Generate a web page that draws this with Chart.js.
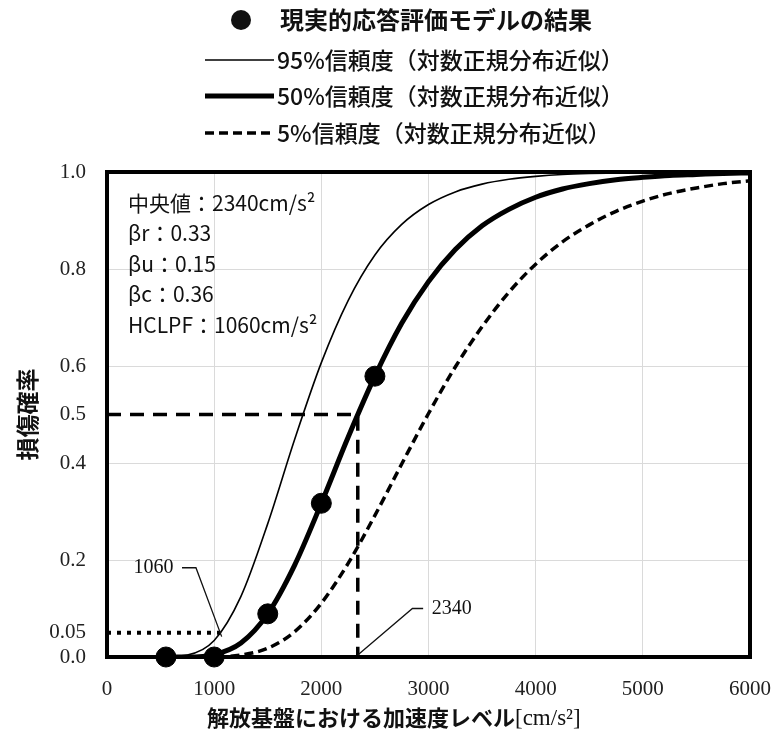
<!DOCTYPE html>
<html>
<head>
<meta charset="utf-8">
<script src="https://cdn.jsdelivr.net/npm/chart.js@4.4.1/dist/chart.umd.min.js"></script>
<style>
html, body { margin: 0; padding: 0; background: #fff; }
</style>
</head>
<body>
<canvas id="myChart" width="773" height="738"></canvas>
<script>
// 加速度 [cm/s2]
var accel = [500, 750, 1000, 1250, 1500, 1750, 2000, 2250, 2500, 2750, 3000, 3250,
             3500, 3750, 4000, 4250, 4500, 4750, 5000, 5250, 5500, 5750, 6000];
// 損傷確率（読み取り）
var p95 = [0.000, 0.004, 0.034, 0.125, 0.275, 0.448, 0.607, 0.735, 0.829, 0.892, 0.933, 0.959,
           0.975, 0.985, 0.991, 0.995, 0.997, 0.998, 0.999, 0.999, 1.000, 1.000, 1.000];
var p50 = [0.000, 0.000, 0.005, 0.029, 0.089, 0.189, 0.317, 0.453, 0.579, 0.688, 0.774, 0.840,
           0.889, 0.923, 0.948, 0.965, 0.976, 0.984, 0.989, 0.993, 0.995, 0.997, 0.998];
var p05 = [0.000, 0.000, 0.000, 0.004, 0.018, 0.052, 0.111, 0.193, 0.292, 0.398, 0.502, 0.598,
           0.681, 0.752, 0.810, 0.856, 0.891, 0.919, 0.940, 0.956, 0.967, 0.976, 0.982];
// 現実的応答評価モデルの結果
var resultAccel = [550, 1000, 1500, 2000, 2500];
var resultProb = [0.0, 0.0, 0.089, 0.317, 0.579];

var medianAcc = 2340;
var hclpfAcc = 1060;
var yTicks = [0, 0.05, 0.2, 0.4, 0.5, 0.6, 0.8, 1.0];
var xTicks = [0, 1000, 2000, 3000, 4000, 5000, 6000];
var paramLines = ['中央値：2340cm/s²', 'βr：0.33', 'βu：0.15', 'βc：0.36', 'HCLPF：1060cm/s²'];
var xTitle = ['解放基盤における加速度レベル', '[cm/s²]'];

function pts(xs, ys) {
    return xs.map(function (x, i) { return { x: x, y: ys[i] }; });
}

var jp = '"Noto Sans CJK JP", "Noto Sans", sans-serif';
var serif = '"Liberation Serif", "DejaVu Serif", serif';

var decor = {
    id: 'decor',
    beforeDatasetsDraw: function (chart) {
        var a = chart.chartArea, c = chart.ctx;
        c.save();
        c.strokeStyle = '#000';
        c.lineWidth = 4;
        c.strokeRect(a.left, a.top, a.right - a.left, a.bottom - a.top);
        c.restore();
    },
    afterDraw: function (chart) {
        var c = chart.ctx, xs = chart.scales.x, ys = chart.scales.y, a = chart.chartArea;
        var ds = chart.data.datasets;
        c.save();
        c.fillStyle = '#111';
        c.textBaseline = 'middle';

        // 凡例
        var rows = [20, 60, 96, 133];
        c.beginPath();
        c.arc(241, rows[0], 10, 0, Math.PI * 2);
        c.fill();
        c.font = 'bold 24px ' + jp;
        c.fillText(ds[0].label, 280, rows[0]);
        c.font = '500 23px ' + jp;
        for (var i = 1; i <= 3; i++) {
            c.save();
            c.strokeStyle = '#000';
            c.lineWidth = ds[i].borderWidth;
            c.setLineDash(ds[i].borderDash || []);
            c.beginPath();
            c.moveTo(205, rows[i]);
            c.lineTo(274, rows[i]);
            c.stroke();
            c.restore();
            c.fillText(ds[i].label, 277, rows[i]);
        }

        // パラメータ
        c.font = '21px ' + jp;
        paramLines.forEach(function (t, k) {
            c.fillText(t, a.left + 21, a.top + 31 + k * 30.5);
        });

        // 横軸タイトル
        var ty = 718, tx = a.left + 100;
        c.font = 'bold 22px ' + jp;
        c.fillText(xTitle[0], tx, ty);
        tx += c.measureText(xTitle[0]).width;
        c.font = '23px ' + serif;
        c.fillText(xTitle[1], tx, ty + 1);

        // 引出線
        c.strokeStyle = '#111';
        c.lineWidth = 1.3;
        c.beginPath();
        c.moveTo(xs.getPixelForValue(700), ys.getPixelForValue(0.184));
        c.lineTo(xs.getPixelForValue(830), ys.getPixelForValue(0.184));
        c.lineTo(xs.getPixelForValue(hclpfAcc + 10), ys.getPixelForValue(0.042));
        c.stroke();
        c.beginPath();
        c.moveTo(xs.getPixelForValue(medianAcc), ys.getPixelForValue(0.004));
        c.lineTo(xs.getPixelForValue(2850), ys.getPixelForValue(0.1));
        c.lineTo(xs.getPixelForValue(2950), ys.getPixelForValue(0.1));
        c.stroke();

        c.font = '20px ' + serif;
        c.textAlign = 'right';
        c.fillText(String(hclpfAcc), xs.getPixelForValue(620), ys.getPixelForValue(0.184));
        c.textAlign = 'left';
        c.fillText(String(medianAcc), xs.getPixelForValue(3030), ys.getPixelForValue(0.1));
        c.restore();
    }
};

var ctx = document.getElementById('myChart').getContext('2d');
var myChart = new Chart(ctx, {
    type: 'line',
    data: {
        datasets: [{
            label: '現実的応答評価モデルの結果',
            data: pts(resultAccel, resultProb),
            showLine: false,
            pointRadius: 10,
            pointBackgroundColor: '#000',
            pointBorderColor: '#000',
            clip: false
        }, {
            label: '95%信頼度（対数正規分布近似）',
            data: pts(accel, p95),
            borderColor: '#000',
            borderWidth: 1.6,
            pointRadius: 0,
            cubicInterpolationMode: 'monotone'
        }, {
            label: '50%信頼度（対数正規分布近似）',
            data: pts(accel, p50),
            borderColor: '#000',
            borderWidth: 5,
            pointRadius: 0,
            cubicInterpolationMode: 'monotone'
        }, {
            label: '5%信頼度（対数正規分布近似）',
            data: pts(accel, p05),
            borderColor: '#000',
            borderWidth: 3.5,
            borderDash: [9, 5],
            pointRadius: 0,
            cubicInterpolationMode: 'monotone'
        }, {
            label: 'median',
            data: [{ x: 0, y: 0.5 }, { x: medianAcc, y: 0.5 }, { x: medianAcc, y: 0 }],
            borderColor: '#000',
            borderWidth: 3.5,
            borderDash: [14, 9],
            pointRadius: 0
        }, {
            label: 'hclpf',
            data: [{ x: 0, y: 0.05 }, { x: hclpfAcc, y: 0.05 }],
            borderColor: '#000',
            borderWidth: 4,
            borderDash: [4, 6],
            pointRadius: 0
        }]
    },
    options: {
        responsive: false,
        animation: false,
        layout: { padding: { top: 172, right: 23, left: 0, bottom: 0 } },
        plugins: {
            legend: { display: false },
            tooltip: { enabled: false }
        },
        scales: {
            x: {
                type: 'linear',
                min: 0,
                max: 6000,
                afterBuildTicks: function (s) { s.ticks = xTicks.map(function (v) { return { value: v }; }); },
                afterFit: function (s) { s.height = 81; s.paddingLeft = 0; s.paddingRight = 0; },
                border: { display: false },
                grid: {
                    drawTicks: false,
                    color: function (c) {
                        var v = c.tick && c.tick.value;
                        return (v > 0 && v < 6000) ? '#dadada' : 'rgba(0,0,0,0)';
                    }
                },
                ticks: {
                    padding: 20,
                    color: '#222',
                    font: { family: serif, size: 21 },
                    maxRotation: 0,
                    autoSkip: false,
                    callback: function (v) { return String(v); }
                }
            },
            y: {
                min: 0,
                max: 1.0,
                afterBuildTicks: function (s) { s.ticks = yTicks.map(function (v) { return { value: v }; }); },
                afterFit: function (s) { s.width = 107; },
                border: { display: false },
                grid: {
                    drawTicks: false,
                    color: function (c) {
                        var v = c.tick && c.tick.value;
                        return [0.2, 0.4, 0.6, 0.8].indexOf(v) >= 0 ? '#dadada' : 'rgba(0,0,0,0)';
                    }
                },
                ticks: {
                    padding: 21,
                    color: '#222',
                    autoSkip: false,
                    font: { family: serif, size: 21 },
                    callback: function (v) { return v === 0.05 ? '0.05' : v.toFixed(1); }
                },
                title: {
                    display: true,
                    text: '損傷確率',
                    color: '#111',
                    font: { family: jp, size: 23, weight: 'bold' },
                    padding: { top: 13, bottom: 0 }
                }
            }
        }
    },
    plugins: [decor]
});
</script>
</body>
</html>
